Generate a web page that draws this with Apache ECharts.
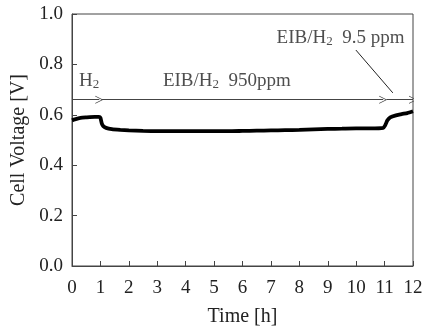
<!DOCTYPE html>
<html>
<head>
<meta charset="utf-8">
<script src="https://cdn.jsdelivr.net/npm/echarts@6/dist/echarts.min.js"></script>
<style>
  html, body { margin: 0; padding: 0; background: #fff; }
  #chart { width: 423px; height: 330px; }
</style>
</head>
<body>
<div id="chart"></div>
<script>
// Cell voltage recorded over a 12 h run with changing anode feed gas
const timeH = [0, 0.1, 0.3, 0.5, 0.8, 0.95, 1.0, 1.05, 1.1, 1.2, 1.4, 1.7, 2.0, 2.5, 3, 3.5, 4, 4.5, 5, 5.5, 6, 6.5, 7, 7.5, 8, 8.5, 9, 9.5, 10, 10.5, 10.95, 11.02, 11.1, 11.2, 11.4, 11.6, 11.8, 12.0];
const voltage = [0.578, 0.582, 0.588, 0.590, 0.592, 0.592, 0.588, 0.565, 0.555, 0.548, 0.543, 0.540, 0.538, 0.536, 0.535, 0.535, 0.535, 0.535, 0.535, 0.535, 0.536, 0.537, 0.538, 0.539, 0.540, 0.542, 0.544, 0.545, 0.546, 0.546, 0.548, 0.558, 0.578, 0.590, 0.598, 0.603, 0.607, 0.614];

const xTicks = [0, 1, 2, 3, 4, 5, 6, 7, 8, 9, 10, 11, 12];
const yTicks = [0.0, 0.2, 0.4, 0.6, 0.8, 1.0];

// Feed-gas periods (start h, end h) drawn as arrows at one voltage level
const periodStart = [0, 1.04, 11.07];
const periodEnd = [0.96, 10.95, 12];
const periodLevel = 0.66;

// Period labels: [time, voltage, text]
const labelTime = [0.25, 3.2, 7.2];
const labelVolt = [0.734, 0.734, 0.905];
const labelText = ['H2', 'EIB/H2  950ppm', 'EIB/H2  9.5 ppm'];

// Leader from the 9.5 ppm label to its period arrow
const leaderFrom = [9.99, 0.857];
const leaderTo = [11.29, 0.687];

const serif = '"Liberation Serif", "Times New Roman", serif';

function richText(s) {
  // render "H2" with a subscript 2
  return s.split('H2').map(p => p ? '{n|' + p + '}' : '').join('{n|H}{s|2}');
}

const chart = echarts.init(document.getElementById('chart'), null, { renderer: 'canvas' });

const arrowHead = 'path://M0,10 L5,0 L10,10 L9,10 L5,2 L1,10 Z';

chart.setOption({
  animation: false,
  grid: {
    left: 72, right: 10, top: 14, bottom: 64,
    containLabel: false, outerBoundsMode: 'none',
    show: true, borderColor: '#444', borderWidth: 1
  },
  xAxis: {
    type: 'value', min: 0, max: 12, interval: 1,
    name: 'Time [h]', nameLocation: 'middle', nameGap: 41,
    nameTextStyle: { fontFamily: serif, fontSize: 20, color: '#222' },
    axisLine: { lineStyle: { color: '#444', width: 1 } },
    axisTick: { inside: true, length: 5, lineStyle: { color: '#444' } },
    axisLabel: { fontFamily: serif, fontSize: 19, color: '#222', margin: 13,
      formatter: v => xTicks.includes(v) ? String(v) : '' },
    splitLine: { show: false }
  },
  yAxis: {
    type: 'value', min: 0, max: 1, interval: 0.2,
    name: 'Cell Voltage [V]', nameLocation: 'middle', nameGap: 41,
    nameTextStyle: { fontFamily: serif, fontSize: 20, color: '#222' },
    axisLine: { lineStyle: { color: '#444', width: 1 } },
    axisTick: { inside: true, length: 5, lineStyle: { color: '#444' } },
    axisLabel: { fontFamily: serif, fontSize: 19, color: '#222', margin: 9,
      formatter: v => yTicks.some(t => Math.abs(t - v) < 1e-9) ? v.toFixed(1) : '' },
    splitLine: { show: false }
  },
  series: [
    {
      type: 'line',
      data: timeH.map((t, i) => [t, voltage[i]]),
      showSymbol: false,
      smooth: 0.2,
      lineStyle: { color: '#000', width: 3.8 }
    },
    {
      type: 'lines',
      coordinateSystem: 'cartesian2d',
      symbol: ['none', arrowHead],
      symbolSize: [0, 8],
      lineStyle: { color: '#444', width: 1, opacity: 1 },
      data: periodStart.map((s, i) => ({ coords: [[s, periodLevel], [periodEnd[i], periodLevel]] }))
    },
    {
      type: 'lines',
      coordinateSystem: 'cartesian2d',
      symbol: ['none', 'none'],
      lineStyle: { color: '#222', width: 1, opacity: 1 },
      data: [{ coords: [leaderFrom, leaderTo] }]
    },
    {
      type: 'scatter',
      symbolSize: 0,
      data: labelTime.map((t, i) => ({ value: [t, labelVolt[i]], text: labelText[i] })),
      label: {
        show: true, position: 'right', distance: 0,
        formatter: p => richText(p.data.text),
        rich: {
          n: { fontFamily: serif, fontSize: 19, color: '#222' },
          s: { fontFamily: serif, fontSize: 13, color: '#222', padding: [7, 0, 0, 0] }
        }
      }
    }
  ]
});
</script>
</body>
</html>
